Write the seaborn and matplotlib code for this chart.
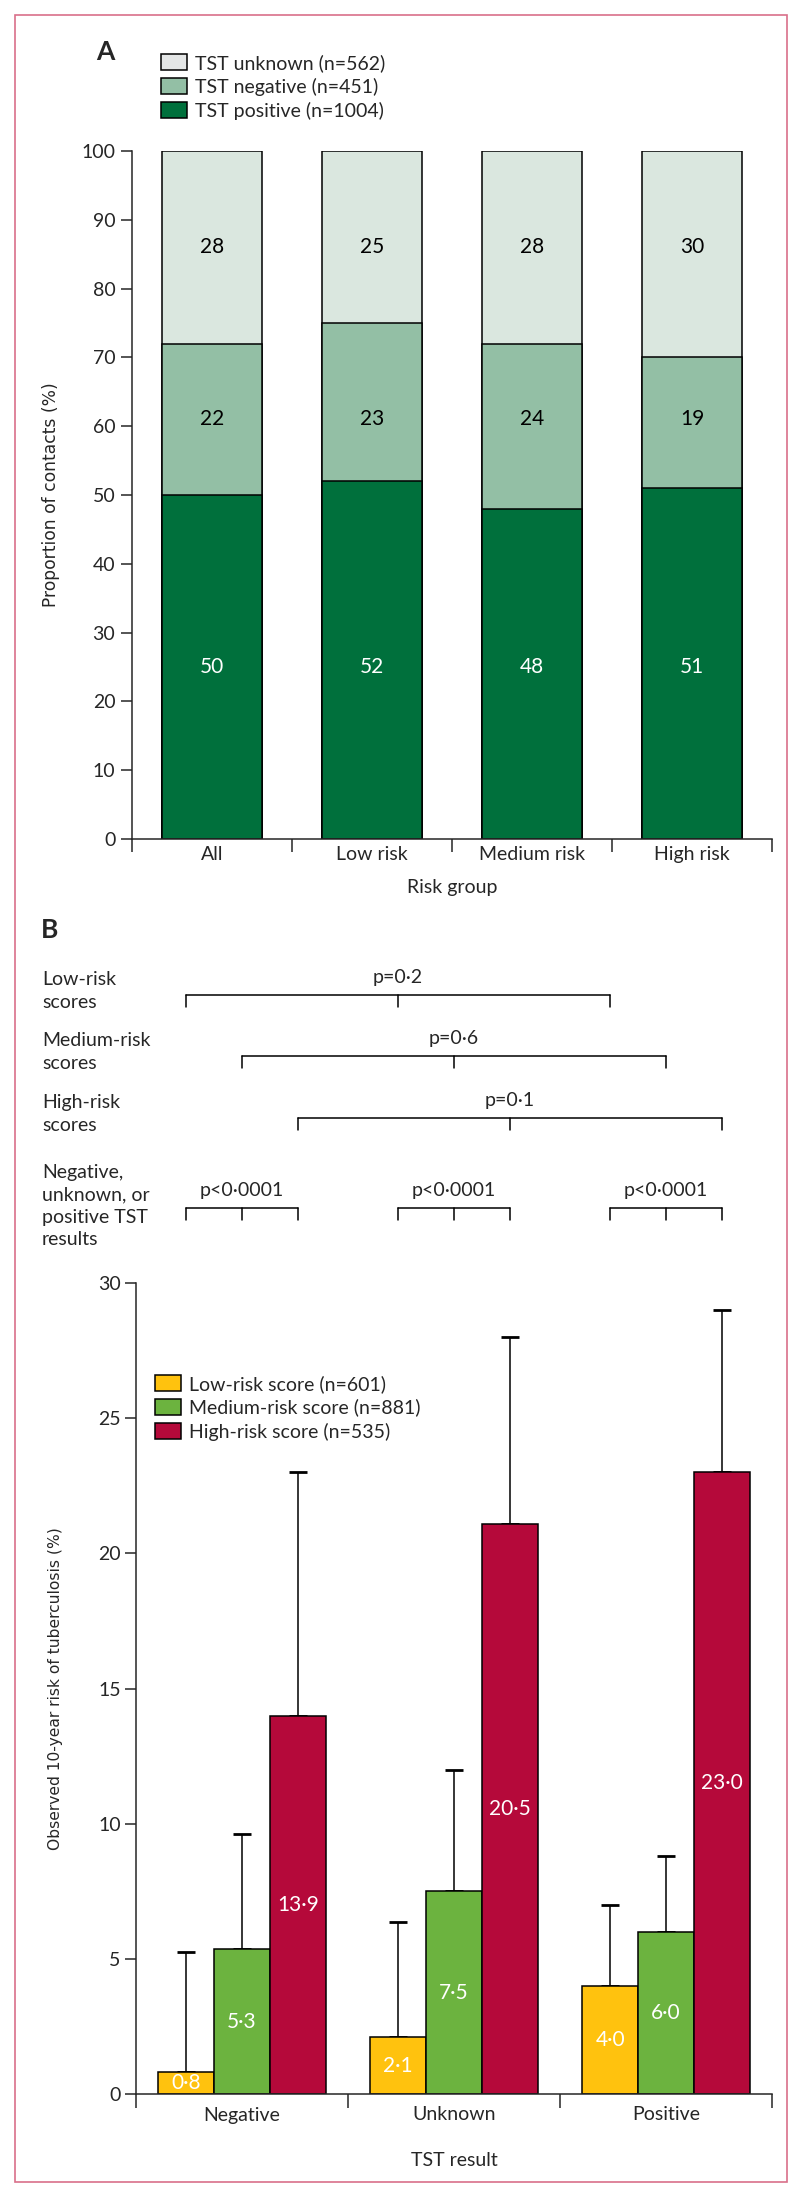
import numpy as np
import pandas as pd
import matplotlib
matplotlib.use("Agg")
import matplotlib.pyplot as plt
import seaborn as sns
from matplotlib.patches import Rectangle, Patch
from matplotlib.lines import Line2D
from matplotlib.transforms import blended_transform_factory

# ---------------- data ----------------
risk_groups = ["All", "Low risk", "Medium risk", "High risk"]
tst_positive = [50, 52, 48, 51]
tst_negative = [22, 23, 24, 19]
tst_unknown = [28, 25, 28, 30]
legend_A = ["TST unknown (n=562)", "TST negative (n=451)", "TST positive (n=1004)"]

tst_results = ["Negative", "Unknown", "Positive"]
score_groups = ["Low-risk score (n=601)", "Medium-risk score (n=881)", "High-risk score (n=535)"]
risk_low = [0.8, 2.1, 4.0]
risk_medium = [5.35, 7.5, 6.0]
risk_high = [14.0, 21.1, 23.0]
upper_low = [5.25, 6.35, 7.0]
upper_medium = [9.6, 12.0, 8.8]
upper_high = [23.0, 28.0, 29.0]
labels_low = ["0·8", "2·1", "4·0"]
labels_medium = ["5·3", "7·5", "6·0"]
labels_high = ["13·9", "20·5", "23·0"]

score_rows = ["Low-risk\nscores", "Medium-risk\nscores", "High-risk\nscores"]
score_pvals = ["p=0·2", "p=0·6", "p=0·1"]
tst_row = "Negative,\nunknown, or\npositive TST\nresults"
tst_pvals = ["p<0·0001", "p<0·0001", "p<0·0001"]

# ---------------- style ----------------
sns.set_theme(style="white")
plt.rcParams["font.family"] = ["Lato", "DejaVu Sans"]
plt.rcParams["axes.linewidth"] = 1.1

W, H = 800, 2199
def fx(px): return px / W
def fy(px): return 1 - px / H

C_UNK, C_NEG, C_POS = "#DAE7DF", "#93BFA5", "#00703C"
C_LOW, C_MED, C_HIGH = "#FFC20E", "#6CB33F", "#B5093A"
FS = 14

fig = plt.figure(figsize=(W / 100, H / 100), dpi=100)

# ================= Panel A =================
axA = fig.add_axes([fx(132), fy(839), fx(640), 688 / H])
dfA = pd.DataFrame({"group": risk_groups,
                    "pos": tst_positive, "neg": tst_negative, "unk": tst_unknown})
dfA["top"] = dfA["pos"] + dfA["neg"] + dfA["unk"]
dfA["mid"] = dfA["pos"] + dfA["neg"]
for col, colr in [("top", C_UNK), ("mid", C_NEG), ("pos", C_POS)]:
    sns.barplot(data=dfA, x="group", y=col, color=colr, width=0.63,
                edgecolor="black", linewidth=1.1, errorbar=None, ax=axA,
                saturation=1)
axA.set_xlim(-0.5, 3.5)
axA.set_ylim(0, 100)
axA.set_yticks(np.arange(0, 101, 10))
axA.set_xticks(range(4))
axA.set_xticklabels(risk_groups, fontsize=FS)
axA.set_xticks(np.arange(-0.5, 3.6, 1), minor=True)
axA.tick_params(axis="x", which="major", length=0, pad=5)
axA.tick_params(axis="x", which="minor", length=9, width=1.1, direction="out", bottom=True)
axA.tick_params(axis="y", length=8, width=1.1, direction="out", left=True, labelsize=FS, pad=4)
for s in ["top", "right"]:
    axA.spines[s].set_visible(False)
axA.set_xlabel("Risk group", fontsize=FS)
axA.xaxis.set_label_coords(0.5, (839 - 888) / 688)
axA.xaxis.label.set_va("center")
axA.set_ylabel("Proportion of contacts (%)", fontsize=12.3, family="DejaVu Sans")
axA.yaxis.set_label_coords((51 - 132) / 640, 0.5)
axA.yaxis.label.set_va("center")

label_y_A = [25, 61, 86]  # layout positions of the segment labels
for i in range(len(risk_groups)):
    axA.text(i, label_y_A[0], str(tst_positive[i]), ha="center", va="center", color="white", fontsize=15)
    axA.text(i, label_y_A[1], str(tst_negative[i]), ha="center", va="center", color="black", fontsize=15)
    axA.text(i, label_y_A[2], str(tst_unknown[i]), ha="center", va="center", color="black", fontsize=15)

handlesA = [Patch(facecolor="#E4E6E6", edgecolor="black", linewidth=1.1),
            Patch(facecolor=C_NEG, edgecolor="black", linewidth=1.1),
            Patch(facecolor=C_POS, edgecolor="black", linewidth=1.1)]
fig.legend(handlesA, legend_A, loc="upper left", bbox_to_anchor=(fx(161), fy(54)),
           frameon=False, fontsize=FS, borderpad=0, borderaxespad=0,
           handlelength=1.35, handleheight=0.85, handletextpad=0.4, labelspacing=0.3)
fig.text(fx(96), fy(52), "A", fontsize=19, fontweight="bold", ha="left", va="center")

# ================= Panel B =================
axB = fig.add_axes([fx(136), fy(2094), fx(636), 811 / H])
dfB = pd.DataFrame({
    "tst": tst_results * 3,
    "score": [score_groups[0]] * 3 + [score_groups[1]] * 3 + [score_groups[2]] * 3,
    "risk": risk_low + risk_medium + risk_high,
})
sns.barplot(data=dfB, x="tst", y="risk", hue="score", order=tst_results,
            hue_order=score_groups, palette=[C_LOW, C_MED, C_HIGH], width=0.79,
            edgecolor="black", linewidth=1.1, errorbar=None, saturation=1, ax=axB,
            legend=False)
axB.set_xlim(-0.5, 2.5)
axB.set_ylim(0, 30)
axB.set_yticks(np.arange(0, 31, 5))
axB.set_xticks(range(3))
axB.set_xticklabels(tst_results, fontsize=FS)
axB.set_xticks(np.arange(-0.5, 2.6, 1), minor=True)
axB.tick_params(axis="x", which="major", length=0, pad=9)
axB.tick_params(axis="x", which="minor", length=10, width=1.1, direction="out", bottom=True)
axB.tick_params(axis="y", length=8, width=1.1, direction="out", left=True, labelsize=FS, pad=3)
for s in ["top", "right"]:
    axB.spines[s].set_visible(False)
axB.set_xlabel("TST result", fontsize=FS)
axB.xaxis.set_label_coords(0.5, (2094 - 2160) / 811)
axB.xaxis.label.set_va("center")
axB.set_ylabel("Observed 10-year risk of tuberculosis (%)", fontsize=11.2, family="DejaVu Sans")
axB.yaxis.set_label_coords((56 - 136) / 636, 0.5)
axB.yaxis.label.set_va("center")

uppers = [upper_low, upper_medium, upper_high]
labels = [labels_low, labels_medium, labels_high]
bar_containers = list(axB.containers)
centers = []
for k, cont in enumerate(bar_containers):
    xs, hs = [], []
    for bar in cont.patches:
        xs.append(bar.get_x() + bar.get_width() / 2)
        hs.append(bar.get_height())
    centers.append(xs)
    xs, hs = np.array(xs), np.array(hs)
    up = np.array(uppers[k])
    axB.errorbar(xs, hs, yerr=[np.zeros_like(hs), up - hs], fmt="none",
                 ecolor="black", elinewidth=1.1, capsize=6.5, capthick=2, zorder=1)
    for x, h, t in zip(xs, hs, labels[k]):
        axB.text(x, h / 2, t, ha="center", va="center", color="white", fontsize=15, zorder=5)
for p in axB.patches:
    p.set_zorder(2)

handlesB = [Patch(facecolor=c, edgecolor="black", linewidth=1.1) for c in (C_LOW, C_MED, C_HIGH)]
fig.legend(handlesB, score_groups, loc="upper left", bbox_to_anchor=(fx(155), fy(1375)),
           frameon=False, fontsize=FS, borderpad=0, borderaxespad=0,
           handlelength=1.35, handleheight=0.85, handletextpad=0.4, labelspacing=0.3)
fig.text(fx(41), fy(930), "B", fontsize=19, fontweight="bold", ha="left", va="center")

# ---- significance brackets above panel B ----
blend = blended_transform_factory(axB.transData, fig.transFigure)
tick_drop = 12 / H
def bracket(xs, ypx, text):
    y = fy(ypx)
    fig.add_artist(Line2D([xs[0], xs[-1]], [y, y], transform=blend, color="black", lw=1.1))
    for x in xs:
        fig.add_artist(Line2D([x, x], [y, y - tick_drop], transform=blend, color="black", lw=1.1))
    fig.text(xs[len(xs) // 2], y + 12 / H, text, transform=blend, ha="center",
             va="baseline", fontsize=FS)

row_y = [995, 1056, 1118]
for k in range(3):
    bracket(centers[k], row_y[k], score_pvals[k])
    fig.text(fx(42), fy(row_y[k] - 4), score_rows[k], ha="left", va="center",
             fontsize=FS, linespacing=1.45)
for j in range(3):
    bracket([centers[k][j] for k in range(3)], 1208, tst_pvals[j])
fig.text(fx(42), fy(1206), tst_row, ha="left", va="center", fontsize=FS, linespacing=1.38)

# pink frame
fig.add_artist(Rectangle((fx(15), fy(2182)), fx(772), (2182 - 15) / H,
                         transform=fig.transFigure, fill=False,
                         edgecolor="#D9708A", linewidth=1.2))

fig.savefig("out.png", dpi=100)
